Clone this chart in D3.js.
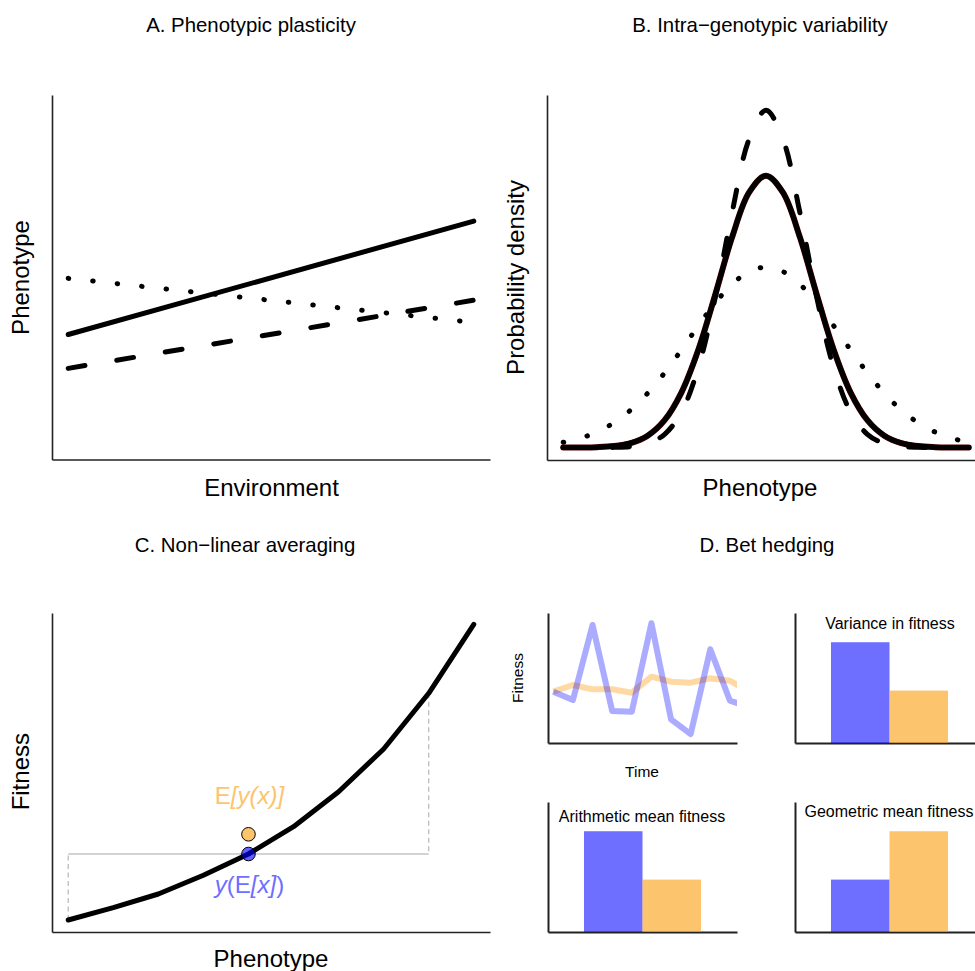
<!DOCTYPE html>
<html>
<head>
<meta charset="utf-8">
<script src="https://cdn.jsdelivr.net/npm/d3@7"></script>
<style>
  body { margin: 0; background: #fff; }
  svg { display: block; }
  text { font-family: "Liberation Sans", Arial, Helvetica, sans-serif; fill: #000; }
</style>
</head>
<body>
<svg id="fig" width="975" height="971"></svg>
<script>
// ---- A. Phenotypic plasticity: three reaction norms (phenotype vs environment)
const envX = [1, 10];
const normSolid = [34.3, 65.4];
const normDashed = [25.0, 43.7];
const normDotted = [49.7, 37.6];

// ---- B. Intra-genotypic variability: phenotype distributions
const phenoB = [-3, -2.75, -2.5, -2.25, -2, -1.75, -1.5, -1.25, -1, -0.75, -0.5, -0.25, 0,
                0.25, 0.5, 0.75, 1, 1.25, 1.5, 1.75, 2, 2.25, 2.5, 2.75, 3];
const densSolid = [0.00006, 0.00025, 0.00097, 0.00326, 0.00962, 0.02504, 0.0574, 0.1158, 0.2054, 0.3210, 0.4416, 0.5347, 0.5699,
                   0.5347, 0.4416, 0.3210, 0.2054, 0.1158, 0.0574, 0.02504, 0.00962, 0.00326, 0.00097, 0.00025, 0.00006];
const densDashed = [0, 0.00001, 0.00009, 0.00049, 0.00226, 0.00868, 0.0279, 0.0749, 0.1681, 0.3151, 0.4936, 0.6463, 0.707,
                    0.6463, 0.4936, 0.3151, 0.1681, 0.0749, 0.0279, 0.00868, 0.00226, 0.00049, 0.00009, 0.00001, 0];
const densDotted = [0.0111, 0.0196, 0.0327, 0.0521, 0.0790, 0.1140, 0.1566, 0.2050, 0.2555, 0.3033, 0.3427, 0.3689, 0.378,
                    0.3689, 0.3427, 0.3033, 0.2555, 0.2050, 0.1566, 0.1140, 0.0790, 0.0521, 0.0327, 0.0196, 0.0111];

// ---- C. Non-linear averaging: fitness function of phenotype
const phenoC = [1, 2, 3, 4, 5, 6, 7, 8, 9, 10];
const fitnessC = [3.76, 7.62, 11.91, 17.77, 24.45, 33.0, 43.98, 57.37, 74.83, 96.46];
const extremePheno = [1, 9];
const meanPheno = 5;
const fitnessAtMean = 24.45;   // y(E[x])
const meanFitness = 30.63;     // E[y(x)]

// ---- D. Bet hedging
const timeSteps = [1, 2, 3, 4, 5, 6, 7, 8, 9, 10, 11];
const fitVariable = [0.395, 0.331, 0.908, 0.246, 0.241, 0.921, 0.182, 0.069, 0.721, 0.325, 0.277];
const fitHedger   = [0.395, 0.446, 0.413, 0.413, 0.387, 0.510, 0.471, 0.464, 0.498, 0.479, 0.392];
const strategies = ["variable", "hedger"];
const varianceFit = [1, 0.52];
const arithFit = [1, 0.52];
const geoFit = [0.52, 1];

const BLUE_BAR = "rgba(0,0,255,0.57)";
const ORANGE_BAR = "rgba(251,151,0,0.57)";
const BLUE_TXT = "#6e6eff";
const ORANGE_TXT = "#fdc46e";
const TITLE_SIZE = 20.4;

const svg = d3.select("#fig");

function frame(g, x, y, xAt, yAt, w) {
  g.append("g").attr("transform", `translate(0,${xAt})`)
    .call(d3.axisBottom(x).tickValues([]).tickSizeOuter(0))
    .call(s => s.select(".domain").attr("stroke", "#222").attr("stroke-width", w));
  g.append("g").attr("transform", `translate(${yAt},0)`)
    .call(d3.axisLeft(y).tickValues([]).tickSizeOuter(0))
    .call(s => s.select(".domain").attr("stroke", "#222").attr("stroke-width", w));
}

function title(txt, x, y, size) {
  svg.append("text").attr("x", x).attr("y", y).attr("text-anchor", "middle")
    .attr("font-size", size).text(txt);
}
function vlabel(txt, x, y, size) {
  svg.append("text").attr("transform", `translate(${x},${y}) rotate(-90)`)
    .attr("text-anchor", "middle").attr("font-size", size).text(txt);
}

const DASH = "17,32.2";
const DOT = "0.5,24.1";

// ================= Panel A =================
{
  const g = svg.append("g");
  const x = d3.scaleLinear().domain([0.64, 10.36]).range([52, 490]);
  const y = d3.scaleLinear().domain([0, 100]).range([459.5, 95]);
  frame(g, x, y, 459.5, 52, 1.6);
  const line = (vals) => d3.line().x((d, i) => x(envX[i])).y(d => y(d))(vals);
  const style = (p, dash) => p.attr("fill", "none").attr("stroke", "#000").attr("stroke-width", 5)
    .attr("stroke-linecap", "round").attr("stroke-dasharray", dash);
  style(g.append("path").attr("d", line(normDotted)), DOT);
  style(g.append("path").attr("d", line(normDashed)), DASH);
  style(g.append("path").attr("d", line(normSolid)), null);

  title("A. Phenotypic plasticity", 251, 31.5, TITLE_SIZE);
  title("Environment", 271.5, 495.5, 24);
  vlabel("Phenotype", 29, 277.5, 24);
}

// ================= Panel B =================
{
  const g = svg.append("g");
  const x = d3.scaleLinear().domain([-3.24, 3.24]).range([547, 985]);
  const y = d3.scaleLinear().domain([-0.026, 0.739]).range([460, 95]);
  frame(g, x, y, 460, 547, 1.6);
  const line = d3.line().x((d, i) => x(phenoB[i])).y(d => y(d)).curve(d3.curveCatmullRom);
  const style = (p, dash, col, w) => p.attr("fill", "none").attr("stroke", col).attr("stroke-width", w)
    .attr("stroke-linecap", "round").attr("stroke-linejoin", "round").attr("stroke-dasharray", dash);
  style(g.append("path").attr("d", line(densSolid)), null, "#5a0000", 6);
  style(g.append("path").attr("d", line(densSolid)), null, "#000", 5);
  style(g.append("path").attr("d", line(densDashed)), DASH, "#000", 5);
  style(g.append("path").attr("d", line(densDotted)), DOT, "#000", 5);

  title("B. Intra\u2212genotypic variability", 760, 31.5, TITLE_SIZE);
  title("Phenotype", 760, 495.5, 24);
  vlabel("Probability density", 524, 277.5, 24);
}

// ================= Panel C =================
{
  const g = svg.append("g");
  const x = d3.scaleLinear().domain([0.64, 10.36]).range([52, 490]);
  const y = d3.scaleLinear().domain([0, 100]).range([932, 613]);
  frame(g, x, y, 932, 52, 1.6);

  const fAt = p => fitnessC[phenoC.indexOf(p)];
  // dashed guides from the extreme phenotypes up to the mean-fitness line
  extremePheno.forEach(p => {
    g.append("line").attr("x1", x(p)).attr("x2", x(p))
      .attr("y1", y(fAt(p))).attr("y2", y(fitnessAtMean))
      .attr("stroke", "#bdbdbd").attr("stroke-width", 1.3).attr("stroke-dasharray", "5,3.5");
  });
  g.append("line").attr("x1", x(extremePheno[0])).attr("x2", x(extremePheno[1]))
    .attr("y1", y(fitnessAtMean)).attr("y2", y(fitnessAtMean))
    .attr("stroke", "#c4c4c4").attr("stroke-width", 1.5);

  g.append("path")
    .attr("d", d3.line().x((d, i) => x(phenoC[i])).y(d => y(d))(fitnessC))
    .attr("fill", "none").attr("stroke", "#000").attr("stroke-width", 5)
    .attr("stroke-linecap", "round").attr("stroke-linejoin", "round");

  g.append("circle").attr("cx", x(meanPheno)).attr("cy", y(meanFitness)).attr("r", 6.8)
    .attr("fill", ORANGE_TXT).attr("stroke", "#000").attr("stroke-width", 1);
  g.append("circle").attr("cx", x(meanPheno)).attr("cy", y(fitnessAtMean)).attr("r", 6.8)
    .attr("fill", "rgba(0,0,255,0.62)").attr("stroke", "#000").attr("stroke-width", 1);

  const t1 = svg.append("text").attr("x", x(meanPheno) + 1).attr("y", 804)
    .attr("text-anchor", "middle").attr("font-size", 24).style("fill", ORANGE_TXT);
  t1.append("tspan").text("E");
  t1.append("tspan").attr("font-style", "italic").text("[y(x)]");
  const t2 = svg.append("text").attr("x", x(meanPheno) + 1).attr("y", 893)
    .attr("text-anchor", "middle").attr("font-size", 24).style("fill", BLUE_TXT);
  t2.append("tspan").attr("font-style", "italic").text("y");
  t2.append("tspan").text("(E");
  t2.append("tspan").attr("font-style", "italic").text("[x]");
  t2.append("tspan").text(")");

  title("C. Non\u2212linear averaging", 245, 551.5, TITLE_SIZE);
  title("Phenotype", 271, 967, 24);
  vlabel("Fitness", 29, 771.7, 24);
}

// ================= Panel D =================
{
  // fitness through time
  const g = svg.append("g");
  const x = d3.scaleLinear().domain([0.73, 10.36]).range([548, 737]);
  const y = d3.scaleLinear().domain([0, 1]).range([743, 613]);
  frame(g, x, y, 743, 548, 2);
  svg.append("clipPath").attr("id", "clipTime").append("rect")
    .attr("x", 548).attr("y", 600).attr("width", 189).attr("height", 143);
  const line = d3.line().x((d, i) => x(timeSteps[i])).y(d => y(d));
  const lines = g.append("g").attr("clip-path", "url(#clipTime)");
  lines.append("path").attr("d", line(fitHedger)).attr("fill", "none")
    .attr("stroke", "rgba(251,151,0,0.36)").attr("stroke-width", 6).attr("stroke-linejoin", "round");
  lines.append("path").attr("d", line(fitVariable)).attr("fill", "none")
    .attr("stroke", "rgba(0,0,255,0.33)").attr("stroke-width", 6).attr("stroke-linejoin", "round");
  title("Time", 642, 777, 15.5);
  vlabel("Fitness", 523, 678, 15.5);

  // bar summaries
  function bars(x0, yTop, vals, label, lx, ly) {
    const gb = svg.append("g");
    const bx = d3.scaleBand().domain(strategies).range([x0, x0 + 189]).paddingInner(0).paddingOuter(0.615);
    const by = d3.scaleLinear().domain([0, 1.29]).range([yTop + 130, yTop]);
    frame(gb, bx, by, yTop + 130, x0, 2);
    gb.selectAll("rect").data(vals).join("rect")
      .attr("x", (d, i) => bx(strategies[i])).attr("width", bx.bandwidth())
      .attr("y", d => by(d)).attr("height", d => by(0) - by(d))
      .attr("fill", (d, i) => i === 0 ? BLUE_BAR : ORANGE_BAR);
    title(label, lx, ly, 16);
  }
  bars(795, 613, varianceFit, "Variance in fitness", 890, 629);
  bars(548, 802, arithFit, "Arithmetic mean fitness", 642, 821.5);
  bars(795, 802, geoFit, "Geometric mean fitness", 889, 816.5);

  title("D. Bet hedging", 767, 551.5, TITLE_SIZE);
}
</script>
</body>
</html>
